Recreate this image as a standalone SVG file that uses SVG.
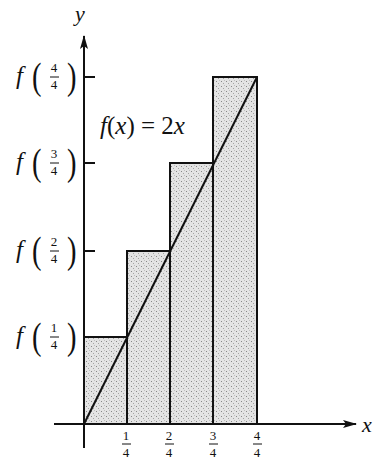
<svg xmlns="http://www.w3.org/2000/svg" width="381" height="459" viewBox="0 0 381 459">
<defs>
<pattern id="stip" width="5" height="5" patternUnits="userSpaceOnUse">
<rect width="5" height="5" fill="#e4e4e4"/>
<rect x="1" y="1" width="1" height="1" fill="#888"/>
<rect x="3" y="3" width="1" height="1" fill="#a4a4a4"/>
<rect x="4" y="0" width="1" height="1" fill="#c0c0c0"/>
</pattern>
<marker id="arr" viewBox="0 0 14 8" refX="13" refY="4" markerWidth="14" markerHeight="8" markerUnits="userSpaceOnUse" orient="auto">
<path d="M0,0 L14,4 L0,8 L3,4 Z" fill="#111"/>
</marker>
<style>
text{font-family:"Liberation Serif","Times New Roman",serif;fill:#111}
.bar{fill:url(#stip);stroke:#111;stroke-width:2}
.ax{stroke:#111;stroke-width:2;fill:none}
.it{font-style:italic}
.fr{font-size:13px;text-anchor:middle}
.par{font-size:38px}
.fl{font-size:25px;font-style:italic}
.bl{stroke:#111;stroke-width:1}
</style>
</defs>
<g id="bars">
<rect id="bar1" class="bar" x="84" y="337" width="43" height="87"/>
<rect id="bar2" class="bar" x="127" y="251" width="43" height="173"/>
<rect id="bar3" class="bar" x="170" y="163" width="43" height="261"/>
<rect id="bar4" class="bar" x="213" y="77" width="44" height="347"/>
</g>
<g id="connectors">
<line class="ax" x1="84" y1="448" x2="84" y2="36" marker-end="url(#arr)"/>
<line class="ax" x1="54" y1="424" x2="356" y2="424" marker-end="url(#arr)"/>
<line class="ax" x1="84" y1="77" x2="95" y2="77"/>
<line class="ax" x1="84" y1="163" x2="95" y2="163"/>
<line class="ax" x1="84" y1="251" x2="95" y2="251"/>
<line class="ax" x1="84" y1="337" x2="95" y2="337"/>
<line id="graph" class="ax" x1="84" y1="424" x2="257" y2="77" stroke-width="2.2"/>
</g>
<g id="axis-labels">
<text class="it" x="75" y="21" font-size="22">y</text>
<text class="it" x="362" y="432" font-size="22">x</text>
</g>
<g id="func-label">
<text x="100" y="134" font-size="25"><tspan font-style="italic">f</tspan>(<tspan font-style="italic">x</tspan>) = 2<tspan font-style="italic">x</tspan></text>
</g>
<g id="ylabels">
<g id="yl4">
<text class="fl" x="16" y="84">f</text>
<text class="par" transform="translate(32,89) scale(0.75,1)">(</text>
<text class="fr" x="54" y="72">4</text><line class="bl" x1="50" y1="77" x2="59" y2="77"/><text class="fr" x="54" y="89">4</text>
<text class="par" transform="translate(67,89) scale(0.75,1)">)</text>
</g>
<g id="yl3">
<text class="fl" x="16" y="170">f</text>
<text class="par" transform="translate(32,175) scale(0.75,1)">(</text>
<text class="fr" x="54" y="158">3</text><line class="bl" x1="50" y1="163" x2="59" y2="163"/><text class="fr" x="54" y="175">4</text>
<text class="par" transform="translate(67,175) scale(0.75,1)">)</text>
</g>
<g id="yl2">
<text class="fl" x="16" y="258">f</text>
<text class="par" transform="translate(32,263) scale(0.75,1)">(</text>
<text class="fr" x="54" y="246">2</text><line class="bl" x1="50" y1="251" x2="59" y2="251"/><text class="fr" x="54" y="263">4</text>
<text class="par" transform="translate(67,263) scale(0.75,1)">)</text>
</g>
<g id="yl1">
<text class="fl" x="16" y="344">f</text>
<text class="par" transform="translate(32,349) scale(0.75,1)">(</text>
<text class="fr" x="54" y="332">1</text><line class="bl" x1="50" y1="337" x2="59" y2="337"/><text class="fr" x="54" y="349">4</text>
<text class="par" transform="translate(67,349) scale(0.75,1)">)</text>
</g>
</g>
<g id="xlabels">
<g id="xl1"><text class="fr" x="126" y="440">1</text><line class="bl" x1="122" y1="444" x2="131" y2="444"/><text class="fr" x="126" y="457">4</text></g>
<g id="xl2"><text class="fr" x="169" y="440">2</text><line class="bl" x1="165" y1="444" x2="174" y2="444"/><text class="fr" x="169" y="457">4</text></g>
<g id="xl3"><text class="fr" x="213" y="440">3</text><line class="bl" x1="209" y1="444" x2="218" y2="444"/><text class="fr" x="213" y="457">4</text></g>
<g id="xl4"><text class="fr" x="257" y="440">4</text><line class="bl" x1="253" y1="444" x2="262" y2="444"/><text class="fr" x="257" y="457">4</text></g>
</g>
</svg>
